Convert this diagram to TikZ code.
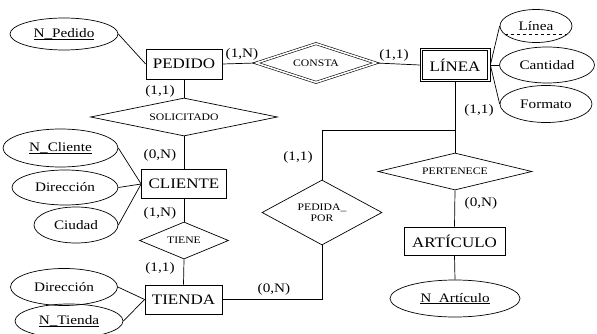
\documentclass[tikz,border=0pt]{standalone}
\usepackage{fontspec}
\setmainfont[FakeStretch=1.17]{Liberation Serif}
\usetikzlibrary{shapes.geometric}
\newcommand\ulkey[2]{\setbox0\hbox{#1\_#2}\setbox2\hbox{\_}\rlap{\rule[-\dp2]{\wd0}{0.6pt}}\box0}
\tikzset{
  every path/.style={line width=0.7pt},
  ent/.style={draw, rectangle, inner sep=0pt, font=\fontsize{14.5}{16}\selectfont},
  attr/.style={draw, ellipse, inner sep=0pt, font=\fontsize{13}{15}\selectfont},
  rel/.style={draw, diamond, inner sep=0pt, font=\fontsize{10}{11}\selectfont, align=center},
  card/.style={inner sep=0pt, font=\fontsize{13}{15}\selectfont},
  dbl/.style={double, double distance=1.6pt, line width=0.6pt}
}
\begin{document}
\begin{tikzpicture}[x=1pt,y=-1pt]
\useasboundingbox (0,0) rectangle (597,334);
% entities
\node[ent, minimum width=76pt, minimum height=30pt] (pedido) at (184,64) {PEDIDO};
\node[ent, minimum width=70pt, minimum height=33pt] (linea) at (455,65) {LÍNEA};
\draw ([xshift=2.6pt,yshift=-2.6pt]linea.north west) rectangle ([xshift=-2.6pt,yshift=2.6pt]linea.south east);
\node[ent, minimum width=85pt, minimum height=29pt] (cliente) at (184,184) {CLIENTE};
\node[ent, minimum width=77pt, minimum height=29pt] (tienda) at (183.5,299.5) {TIENDA};
\node[ent, minimum width=101pt, minimum height=28pt] (articulo) at (454.5,241) {ARTÍCULO};
% relationships
\node[rel, dbl, aspect=3.1, minimum width=120pt, minimum height=39pt] (consta) at (316,63) {CONSTA};
\node[rel, aspect=4.9, minimum width=187pt, minimum height=38pt] (solic) at (184,117) {SOLICITADO};
\node[rel, aspect=2.4, minimum width=89pt, minimum height=37pt] (tiene) at (184,240.5) {TIENE};
\node[rel, aspect=1.85, minimum width=120pt, minimum height=65pt] (pedpor) at (322,212.5) {PEDIDA\_\\POR};
\node[rel, aspect=4.16, minimum width=154pt, minimum height=37pt] (pert) at (455,171.5) {PERTENECE};
% attributes
\node[attr, minimum width=108pt, minimum height=32pt] (npedido) at (64,34) {\ulkey{N}{Pedido}};
\node[attr, minimum width=72pt, minimum height=33pt] (lin) at (536,26) {Línea};
\node[attr, minimum width=95pt, minimum height=36pt] (cant) at (547,65) {Cantidad};
\node[attr, minimum width=92pt, minimum height=37pt] (form) at (546,104) {Formato};
\node[attr, minimum width=115pt, minimum height=38pt] (ncli) at (60.5,148) {\ulkey{N}{Cliente}};
\node[attr, minimum width=106pt, minimum height=35pt] (dircli) at (65,187.5) {Dirección};
\node[attr, minimum width=84pt, minimum height=36pt] (ciudad) at (76,225) {Ciudad};
\node[attr, minimum width=107pt, minimum height=37pt] (dirtie) at (64,287) {Dirección};
\node[attr, minimum width=108pt, minimum height=34pt] (ntie) at (69,321) {\ulkey{N}{Tienda}};
\node[attr, minimum width=130pt, minimum height=37pt] (nart) at (455,298.5) {\ulkey{N}{Artículo}};
\draw[dashed] (lin.195) -- (lin.-15);
% connectors
\draw (npedido.east) -- (pedido.west);
\draw (pedido.east) -- (consta.west);
\draw (consta.east) -- (linea.west);
\draw (linea.east) -- (lin.west);
\draw (linea.east) -- (cant.west);
\draw (linea.east) -- (form.west);
\draw (pedido.south) -- (solic.north);
\draw (solic.south) -- (cliente.north);
\draw (cliente.south) -- (tiene.north);
\draw (tiene.south) -- (tienda.north);
\draw (cliente.west) -- (ncli.east);
\draw (cliente.west) -- (dircli.east);
\draw (cliente.west) -- (ciudad.east);
\draw (tienda.west) -- (dirtie.east);
\draw (tienda.west) -- (ntie.east);
\coordinate (j) at (455,130);
\draw (linea.south) -- (pert.north);
\draw (j) -| (pedpor.north);
\draw (pedpor.south) |- (tienda.east);
\draw (pert.south) -- (articulo.north);
\draw (articulo.south) -- (nart.north);
% cardinalities
\node[card] (c1) at (242,54) {(1,N)};
\node[card] (c2) at (394,55) {(1,1)};
\node[card] (c3) at (160,91) {(1,1)};
\node[card] (c4) at (160,155) {(0,N)};
\node[card] (c5) at (298,157) {(1,1)};
\node[card] (c6) at (479,110) {(1,1)};
\node[card] (c7) at (481,203) {(0,N)};
\node[card] (c8) at (160,213) {(1,N)};
\node[card] (c9) at (160,268) {(1,1)};
\node[card] (c10) at (274,289) {(0,N)};
\end{tikzpicture}
\end{document}
